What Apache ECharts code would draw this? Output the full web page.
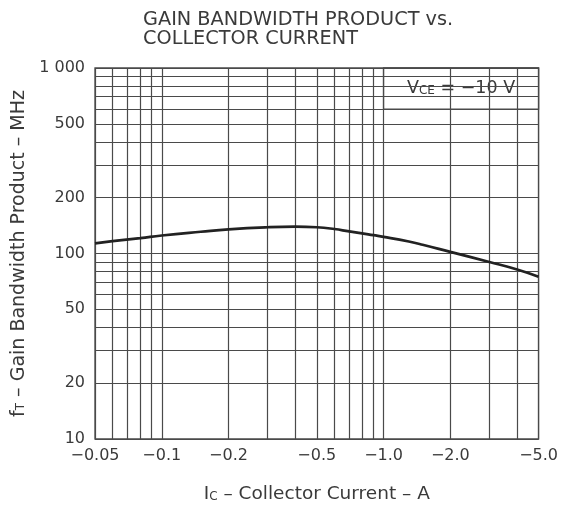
<!DOCTYPE html>
<html>
<head>
<meta charset="utf-8">
<script src="https://cdn.jsdelivr.net/npm/echarts@6/dist/echarts.min.js"></script>
<style>
html,body{margin:0;padding:0;background:#fff;}
#chart{width:561px;height:510px;}
</style>
</head>
<body>
<div id="chart"></div>
<script>
// ---- data ----
const current = [0.05, 0.06, 0.08, 0.1, 0.15, 0.2, 0.3, 0.4, 0.5, 0.6, 0.7, 0.8, 0.9, 1.0, 1.3, 1.5, 2.0, 3.0, 4.0, 5.0];
const fT = [113.5, 116.5, 121, 125, 131, 135, 138.5, 139.5, 138.5, 135.5, 131.5, 128.5, 125.5, 123, 116, 111.5, 102, 90, 82, 75];
const xTicks = [0.05, 0.1, 0.2, 0.5, 1, 2, 5];
const xTickLabels = ['\u22120.05', '\u22120.1', '\u22120.2', '\u22120.5', '\u22121.0', '\u22122.0', '\u22125.0'];
const yTicks = [10, 20, 50, 100, 200, 500, 1000];
const yTickLabels = ['10', '20', '50', '100', '200', '500', '1 000'];
const xGrid = [0.05, 0.06, 0.07, 0.08, 0.09, 0.1, 0.2, 0.3, 0.4, 0.5, 0.6, 0.7, 0.8, 0.9, 1, 2, 3, 4, 5];
const yGrid = [10, 20, 30, 40, 50, 60, 70, 80, 90, 100, 200, 300, 400, 500, 600, 700, 800, 900, 1000];
const noteBox = [[1, 600], [5, 1000]];

const FONT = "'DejaVu Sans', 'Liberation Sans', Arial, sans-serif";
const TXT = '#3a3a3a';
const LINE = '#4a4a4a';

const chart = echarts.init(document.getElementById('chart'), null, {renderer: 'canvas'});
function findLabel(ticks, labels, v) {
  for (let i = 0; i < ticks.length; i++) if (Math.abs(ticks[i] - v) / ticks[i] < 1e-6) return labels[i];
  return '';
}
function subRich(big, small) {
  return {
    v: {fontFamily: FONT, fontSize: big, color: TXT},
    s: {fontFamily: FONT, fontSize: small, color: TXT, verticalAlign: 'bottom', padding: [0, 0, 1, 0]}
  };
}

chart.setOption({
  animation: false,
  backgroundColor: '#fff',
  title: {
    text: 'GAIN BANDWIDTH PRODUCT vs.\nCOLLECTOR CURRENT',
    left: 138, top: 5,
    textStyle: {fontFamily: FONT, fontSize: 19.3, fontWeight: 'normal', color: TXT, lineHeight: 19}
  },
  grid: {left: 95, right: 22, top: 68, bottom: 71, show: true, borderColor: LINE, borderWidth: 1.3, backgroundColor: 'transparent'},
  xAxis: {
    type: 'log', logBase: 10, min: 0.05, max: 5,
    axisLine: {show: false}, axisTick: {show: false}, splitLine: {show: false},
    axisLabel: {
      customValues: xTicks, showMinLabel: true, showMaxLabel: true,
      formatter: v => findLabel(xTicks, xTickLabels, v),
      fontFamily: FONT, fontSize: 16, color: TXT, margin: 9
    },
    name: '{v|I}{s|C}{v| \u2013 Collector Current \u2013 A}',
    nameLocation: 'middle', nameGap: 46,
    nameTextStyle: {fontFamily: FONT, color: TXT, rich: subRich(18.5, 12)}
  },
  yAxis: {
    type: 'log', logBase: 10, min: 10, max: 1000,
    axisLine: {show: false}, axisTick: {show: false}, splitLine: {show: false},
    axisLabel: {
      customValues: yTicks, showMinLabel: true, showMaxLabel: true,
      formatter: v => findLabel(yTicks, yTickLabels, v),
      fontFamily: FONT, fontSize: 16, color: TXT, margin: 10
    },
    name: '{v|f}{s|T}{v| \u2013 Gain Bandwidth Product \u2013 MHz}',
    nameLocation: 'middle', nameGap: 65,
    nameTextStyle: {fontFamily: FONT, color: TXT, rich: subRich(19, 12)}
  },
  series: [
    {
      type: 'line', data: [], z: 1, silent: true,
      markLine: {
        silent: true, symbol: 'none', animation: false,
        label: {show: false},
        lineStyle: {color: LINE, width: 1.2, type: 'solid'},
        data: xGrid.map(v => ({xAxis: v})).concat(yGrid.map(v => ({yAxis: v})))
      }
    },
    {
      type: 'line', data: [], z: 3, silent: true,
      markArea: {
        silent: true,
        itemStyle: {color: '#fff', borderColor: LINE, borderWidth: 1.3},
        label: {
          show: true, position: 'inside',
          formatter: '{v|V}{s|CE}{v| = \u221210 V}',
          rich: subRich(17.5, 12)
        },
        data: [[{xAxis: noteBox[0][0], yAxis: noteBox[0][1]}, {xAxis: noteBox[1][0], yAxis: noteBox[1][1]}]]
      }
    },
    {
      type: 'line', z: 5, smooth: 0.5, symbol: 'none', silent: true,
      lineStyle: {color: '#222', width: 2.7},
      data: current.map((c, i) => [c, fT[i]])
    }
  ]
});
</script>
</body>
</html>
